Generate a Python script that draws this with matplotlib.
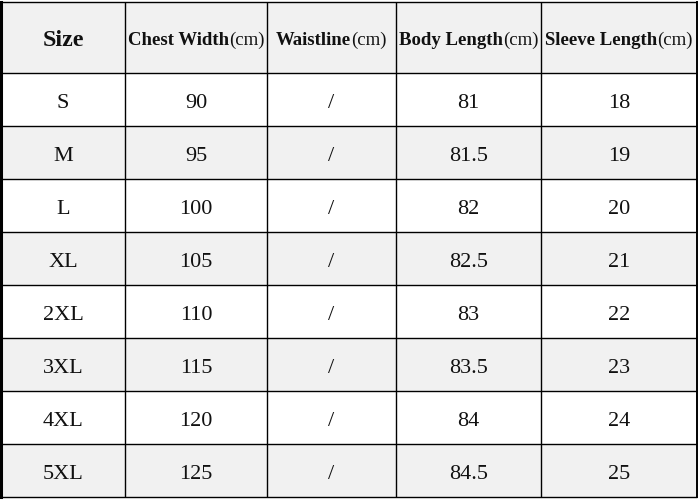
import matplotlib.pyplot as plt
from matplotlib.patches import Rectangle

sizes = ['S', 'M', 'L', 'XL', '2XL', '3XL', '4XL', '5XL']
chest = ['90', '95', '100', '105', '110', '115', '120', '125']
waist = ['/'] * 8
body = ['81', '81.5', '82', '82.5', '83', '83.5', '84', '84.5']
sleeve = ['18', '19', '20', '21', '22', '23', '24', '25']
headers = ['Chest Width', 'Waistline', 'Body Length', 'Sleeve Length']

# layout in pixels
col_edges = [1, 125, 267, 396, 541, 697]
row_edges = [2, 73] + [73 + 53 * (i + 1) for i in range(8)]
gray = '#f1f1f1'
ink = '#111111'
font = 'Liberation Serif'

fig = plt.figure(figsize=(6.99, 5.0), dpi=100)
ax = fig.add_axes([0, 0, 1, 1])
ax.set_xlim(0, 699)
ax.set_ylim(500, 0)
ax.axis('off')

# backgrounds
for r in range(9):
    y0, y1 = row_edges[r], row_edges[r + 1]
    fc = gray if r % 2 == 0 else 'white'
    ax.add_patch(Rectangle((col_edges[0], y0), col_edges[-1] - col_edges[0], y1 - y0,
                           facecolor=fc, edgecolor='none'))

# grid lines
for y in row_edges:
    ax.plot([col_edges[0], col_edges[-1]], [y, y], color='black', lw=1.0, solid_capstyle='butt')
for x in col_edges[1:-1]:
    ax.plot([x, x], [row_edges[0], row_edges[-1]], color='black', lw=1.0, solid_capstyle='butt')
ax.plot([col_edges[0], col_edges[0]], [row_edges[0], row_edges[-1]], color='black', lw=2.2)
ax.plot([col_edges[-1], col_edges[-1]], [row_edges[0], row_edges[-1]], color='black', lw=1.4)

fig.canvas.draw()
renderer = fig.canvas.get_renderer()

def center(i):
    return (col_edges[i] + col_edges[i + 1]) / 2

hy = (row_edges[0] + row_edges[1]) / 2 + 3
ax.text(center(0), hy, 'Size', ha='center', va='center', fontsize=17.3,
        fontweight='bold', family=font, color=ink)

for i, h in enumerate(headers):
    t1 = ax.text(0, hy, h, ha='left', va='center', fontsize=13.5,
                 fontweight='bold', family=font, color=ink)
    t2 = ax.text(0, hy, '(cm)', ha='left', va='center', fontsize=13.5,
                 family=font, color=ink)
    w1 = t1.get_window_extent(renderer).width
    w2 = t2.get_window_extent(renderer).width
    start = center(i + 1) - (w1 + w2) / 2
    t1.set_x(start)
    t2.set_x(start + w1)

columns = [sizes, chest, waist, body, sleeve]
for r in range(8):
    cy = (row_edges[r + 1] + row_edges[r + 2]) / 2 + 4
    for c, col in enumerate(columns):
        ax.text(center(c), cy, col[r], ha='center', va='center', fontsize=16,
                family=font, color=ink)

fig.savefig('out.png', dpi=100)
